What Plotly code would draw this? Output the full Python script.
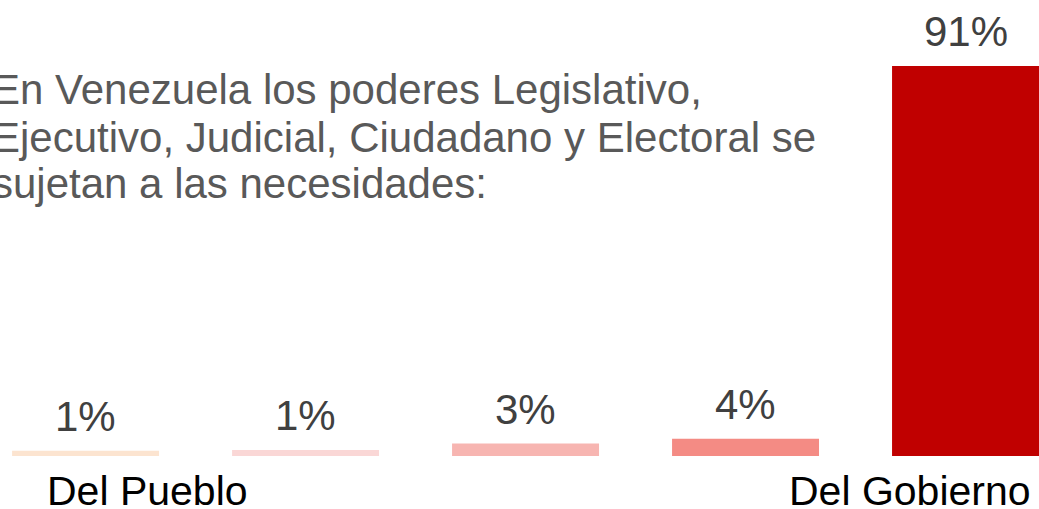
import plotly.graph_objects as go

categories = ["A", "B", "C", "D", "E"]
values = [1.2, 1.4, 2.9, 4.0, 91.0]
value_labels = ["1%", "1%", "3%", "4%", "91%"]
bar_colors = ["#FCE4D0", "#FAD7D6", "#F7B5B1", "#F48B84", "#C00000"]
title_lines = [
    "En Venezuela los poderes Legislativo,",
    "Ejecutivo, Judicial, Ciudadano y Electoral se",
    "sujetan a las necesidades:",
]
end_labels = ["Del Pueblo", "Del Gobierno"]

W, H = 1039, 509
xs = list(range(len(categories)))

fig = go.Figure()
fig.add_trace(go.Bar(
    x=xs, y=values, width=0.668,
    marker=dict(color=bar_colors, line=dict(width=0)),
    hoverinfo="skip",
))

for i, (v, lab) in enumerate(zip(values, value_labels)):
    fig.add_annotation(
        x=i, y=v, xref="x", yref="y", text=lab, showarrow=False,
        yanchor="bottom", yshift=9,
        font=dict(family="Liberation Sans, Arial, sans-serif", size=42, color="#404040"),
    )

def py(px):
    return (H - px) / H

title_y = [90, 137, 183]
for line, ypx in zip(title_lines, title_y):
    fig.add_annotation(
        x=0, y=py(ypx), xref="paper", yref="paper", text=line, showarrow=False,
        xanchor="left", yanchor="middle", xshift=-10, align="left",
        font=dict(family="Liberation Sans, Arial, sans-serif", size=42, color="#595959"),
    )

for lab, xpx in zip(end_labels, [147, 910]):
    fig.add_annotation(
        x=xpx / W, y=py(491), xref="paper", yref="paper", text=lab, showarrow=False,
        xanchor="center", yanchor="middle",
        font=dict(family="Liberation Sans, Arial, sans-serif", size=41, color="#000000"),
    )

fig.update_layout(
    width=W, height=H,
    margin=dict(l=0, r=0, t=0, b=0),
    paper_bgcolor="white", plot_bgcolor="white",
    showlegend=False,
    xaxis=dict(range=[-0.389, 4.334], visible=False, fixedrange=True),
    yaxis=dict(range=[-12.37, 106.4], visible=False, fixedrange=True),
)

fig.write_html(
    "out.html",
    config={"displayModeBar": False},
    post_script="document.body.style.margin='0';document.body.style.overflow='hidden';",
)
